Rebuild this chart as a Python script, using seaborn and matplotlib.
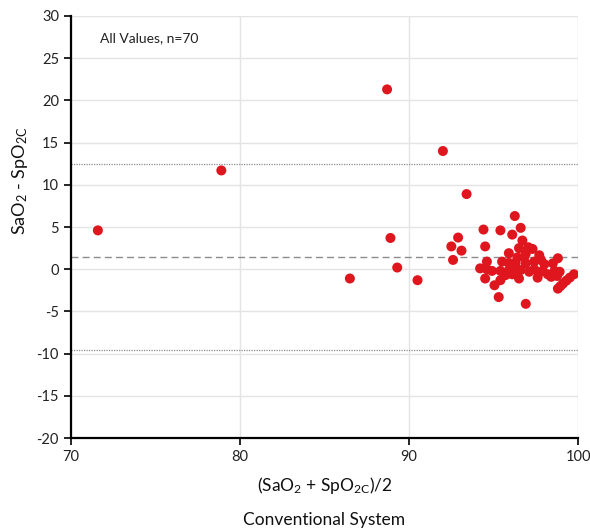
import matplotlib
matplotlib.use("Agg")
import matplotlib.pyplot as plt
import seaborn as sns
import pandas as pd

# Bland-Altman data: mean of the two methods vs. their difference
mean_vals = [71.6, 78.9, 86.5, 88.7, 88.9, 89.3, 90.5, 92.0, 92.5, 92.6,
             92.9, 93.1, 93.4, 94.2, 94.4, 94.5, 94.6, 94.6, 94.9, 94.5,
             95.05, 95.3, 95.4, 95.4, 95.5, 95.4, 95.7, 95.9, 96.1, 96.25,
             96.6, 96.7, 97.05, 97.3, 96.5, 96.9, 96.8, 96.4, 97.7, 97.8,
             98.8, 98.5, 98.0, 97.4, 96.9, 96.3, 95.9, 96.3, 96.6, 95.9,
             97.4, 97.9, 98.6, 98.9, 97.7, 98.2, 96.4, 96.5, 97.6, 98.4,
             98.75, 96.9, 99.75, 99.5, 99.3, 99.1, 98.95, 98.8, 96.1, 97.1]
diff_vals = [4.6, 11.7, -1.1, 21.3, 3.7, 0.2, -1.3, 14.0, 2.7, 1.1,
             3.75, 2.2, 8.9, 0.1, 4.7, 2.7, 0.9, 0.0, -0.2, -1.1,
             -1.9, -3.3, -1.3, 4.6, 0.9, -0.2, -0.7, 1.9, 4.1, 6.3,
             4.9, 3.4, 2.6, 2.4, 2.5, 1.85, 1.4, 1.4, 1.65, 1.1,
             1.3, 0.7, 0.6, 0.9, 0.7, 0.75, 0.75, 0.1, -0.1, -0.1,
             0.0, -0.2, -0.2, -0.3, -0.4, -0.6, -0.4, -1.1, -1.0, -0.9,
             -0.8, -4.1, -0.6, -1.0, -1.35, -1.7, -2.0, -2.3, -0.6, -0.3]

bias = 1.42
upper_loa = 12.44
lower_loa = -9.6

x_ticks = [70, 80, 90, 100]
y_ticks = [-20, -15, -10, -5, 0, 5, 10, 15, 20, 25, 30]

df = pd.DataFrame({"mean": mean_vals, "diff": diff_vals})

sns.set_theme(style="white")
plt.rcParams["font.family"] = ["Lato", "DejaVu Sans"]
plt.rcParams["mathtext.default"] = "regular"
plt.rcParams["axes.unicode_minus"] = False

fig = plt.figure(figsize=(5.9, 5.31), dpi=100)
ax = fig.add_axes([0.120, 0.175, 0.860, 0.795])

ax.grid(True, color="#e4e4e4", linewidth=1.0)
ax.set_axisbelow(True)

sns.scatterplot(data=df, x="mean", y="diff", ax=ax, color="#e0161f",
                s=52, edgecolor="none", zorder=3, legend=False)

ax.axhline(bias, color="#8c8c8c", linestyle=(0, (5, 3)), linewidth=1.0, zorder=2)
ax.axhline(upper_loa, color="#8c8c8c", linestyle=(0, (1, 1)), linewidth=0.9, zorder=2)
ax.axhline(lower_loa, color="#8c8c8c", linestyle=(0, (1, 1)), linewidth=0.9, zorder=2)

ax.set_xlim(70, 100)
ax.set_ylim(-20, 30)
ax.set_xticks(x_ticks)
ax.set_yticks(y_ticks)
ax.tick_params(axis="both", direction="out", length=5, width=1.2,
               color="black", labelsize=10.5, labelcolor="#222222",
               bottom=True, left=True)

for side in ["top", "right"]:
    ax.spines[side].set_visible(False)
for side in ["left", "bottom"]:
    ax.spines[side].set_color("black")
    ax.spines[side].set_linewidth(1.6)

ax.set_ylabel("$SaO_2$ - $SpO_{2C}$", fontsize=13, color="#111111")
ax.yaxis.set_label_coords(-0.080, 0.61)
ax.set_xlabel("$(SaO_2$ + $SpO_{2C})/2$\n\nConventional System", fontsize=12.5,
              color="#111111", labelpad=8, linespacing=1.0)

ax.text(0.057, 0.948, "All Values, n=70", transform=ax.transAxes,
        fontsize=10, color="#222222", ha="left", va="center")

fig.savefig("out.png", dpi=100)
